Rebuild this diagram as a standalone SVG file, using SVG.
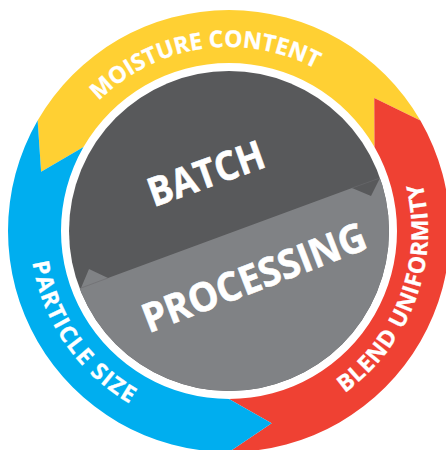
<svg xmlns="http://www.w3.org/2000/svg" width="446" height="450" viewBox="0 0 446 450">
  <style>
    .ring { font-family: "Open Sans", "DejaVu Sans", sans-serif; font-weight: 700; font-size: 23px; fill: #ffffff; stroke: #ffffff; stroke-width: 0.3; }
    .core { font-family: "Open Sans", "DejaVu Sans", sans-serif; font-weight: 700; font-size: 40px; fill: #ffffff; stroke: #ffffff; stroke-width: 0.6; }
    .seam { stroke: #6b6c6f; stroke-width: 0.6; fill: none; }
  </style>
  <defs>
    <clipPath id="coreClip"><circle cx="229" cy="231" r="160"/></clipPath>
    <path id="pMoist" d="M45.34,242.23 A184,184 0 0 1 407.92,188.05"/>
    <path id="pPart" d="M101.62,78.11 A199,199 0 0 0 327.90,403.69"/>
    <path id="pBlend" d="M176.66,422.99 A199,199 0 0 0 313.89,51.01"/>
  </defs>
  <rect width="446" height="450" fill="#ffffff"/>

  <g id="moisture-content">
    <path fill="#FFD033" d="M37.61,120.5 A221,221 0 0 1 420.39,120.5 L374.24,97.91 L374.49,147 A168,168 0 0 0 83.51,147 L41.12,171.76 Z"/>
    <text class="ring" letter-spacing="0"><textPath href="#pMoist" startOffset="50%" text-anchor="middle">MOISTURE CONTENT</textPath></text>
  </g>

  <g id="blend-uniformity">
    <path fill="#EF4133" d="M420.39,120.5 A221,221 0 0 1 229,452 L271.64,423.33 L229,399 A168,168 0 0 0 374.49,147 L374.24,97.91 Z"/>
    <text class="ring" letter-spacing="0.5"><textPath href="#pBlend" startOffset="50%" text-anchor="middle">BLEND UNIFORMITY</textPath></text>
  </g>

  <g id="particle-size">
    <path fill="#00AEEF" d="M229,452 A221,221 0 0 1 37.61,120.5 L41.12,171.76 L83.51,147 A168,168 0 0 0 229,399 L271.64,423.33 Z"/>
    <text class="ring" letter-spacing="1.5"><textPath href="#pPart" startOffset="50%" text-anchor="middle">PARTICLE SIZE</textPath></text>
  </g>

  <g id="batch-processing">
    <circle cx="229" cy="231" r="160" fill="#58595B"/>
    <g clip-path="url(#coreClip)">
      <path fill="#808285" d="M40,303 L81,288 L89,269 L108,278 L352,188 L371,196 L380,178 L420,163 L420,420 L40,420 Z"/>
      <path class="seam" d="M81,288 L108,278 M352,188 L380,178"/>
    </g>
    <text class="core" x="210.8" y="186.8" text-anchor="middle" textLength="121" lengthAdjust="spacingAndGlyphs" transform="rotate(-19.8 210.8 186.8)">BATCH</text>
    <text class="core" x="259.2" y="290.5" text-anchor="middle" textLength="237" lengthAdjust="spacingAndGlyphs" transform="rotate(-21.1 259.2 290.5)">PROCESSING</text>
  </g>
</svg>
